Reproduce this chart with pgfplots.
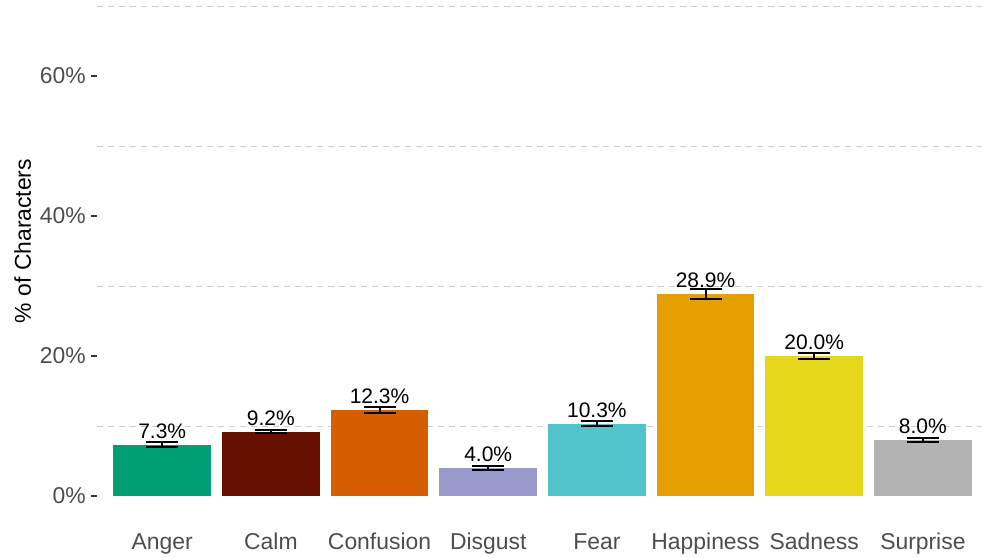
\documentclass[border=0pt]{standalone}
\usepackage{fontspec}
\setmainfont{Liberation Sans}
\usepackage{pgfplots}
\pgfplotsset{compat=1.18}
\definecolor{cAnger}{HTML}{009E73}
\definecolor{cCalm}{HTML}{661100}
\definecolor{cConf}{HTML}{D55E00}
\definecolor{cDisg}{HTML}{9999CC}
\definecolor{cFear}{HTML}{50C4CA}
\definecolor{cHapp}{HTML}{E69F00}
\definecolor{cSad}{HTML}{E5D81A}
\definecolor{cSurp}{HTML}{B3B3B3}
\definecolor{tickgray}{HTML}{4D4D4D}
\definecolor{gridgray}{HTML}{CCCCCC}
\begin{document}
\fontsize{22.9bp}{27bp}\selectfont
\begin{tikzpicture}
\path[use as bounding box] (0,0) rectangle (982bp,558bp);
\begin{axis}[
  at={(97bp,37.5bp)}, anchor=south west,
  scale only axis, width=885bp, height=520.5bp,
  xmin=-0.6, xmax=7.544, ymin=-3.5, ymax=70.86,
  axis lines*=left, axis line style={draw=none},
  ybar, bar width=0.9, bar shift=0pt,
  xtick={0,...,7},
  xticklabels={Anger,Calm,Confusion,Disgust,Fear,Happiness,Sadness,Surprise},
  x tick style={draw=none},
  xticklabel style={text=tickgray, anchor=base, inner sep=0pt, yshift=-23bp},
  ytick={0,20,40,60},
  yticklabels={0\%,20\%,40\%,60\%},
  minor ytick={10,30,50,70},
  minor tick length=0pt,
  major tick length=5.5bp,
  tick align=outside,
  y tick style={color=black!80, line width=1.6bp},
  yticklabel style={text=tickgray, anchor=east, inner sep=0pt, xshift=-5.5bp},
  yminorgrids, ymajorgrids=false,
  minor grid style={dash pattern=on 6bp off 5bp, color=gridgray, line width=1bp},
  every axis y label/.style={at={(rel axis cs:-0.0746,0.537)}, rotate=90, anchor=base},
  ylabel={\% of Characters},
  clip=false,
  nodes near coords={\pgfmathprintnumber[fixed,fixed zerofill,precision=1,assume math mode=true]{\pgfplotspointmeta}\%},
  every node near coord/.append style={font=\fontsize{21bp}{24bp}\selectfont, text=black, anchor=base, inner sep=0pt, yshift=6.5bp},
  error bars/y dir=both, error bars/y explicit,
  error bars/error bar style={black, line width=2bp},
  error bars/error mark options={black, line width=2bp, mark size=16bp, rotate=90},
]
\addplot[fill=cAnger, draw=none] coordinates {(0,7.3) +- (0,0.35)};
\addplot[fill=cCalm, draw=none] coordinates {(1,9.2) +- (0,0.25)};
\addplot[fill=cConf, draw=none] coordinates {(2,12.3) +- (0,0.38)};
\addplot[fill=cDisg, draw=none] coordinates {(3,4.0) +- (0,0.24)};
\addplot[fill=cFear, draw=none] coordinates {(4,10.3) +- (0,0.35)};
\addplot[fill=cHapp, draw=none] coordinates {(5,28.9) +- (0,0.7)};
\addplot[fill=cSad, draw=none] coordinates {(6,20.0) +- (0,0.47)};
\addplot[fill=cSurp, draw=none] coordinates {(7,8.0) +- (0,0.28)};
\end{axis}
\end{tikzpicture}
\end{document}
